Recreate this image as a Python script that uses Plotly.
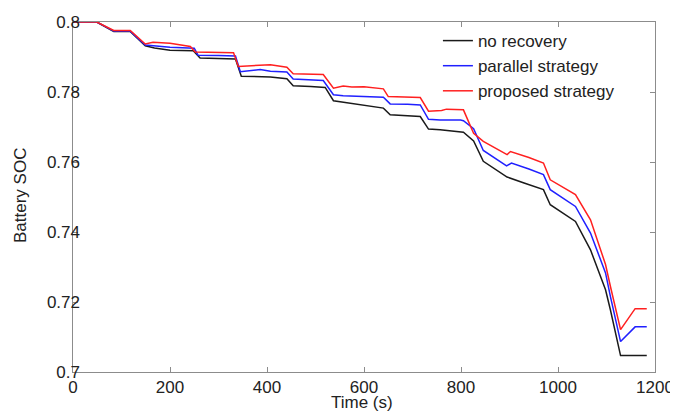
import plotly.graph_objects as go

# Time (s) and battery SOC
t_none = [0, 49, 84, 118, 149, 168, 200, 248, 262, 300, 335, 347, 386, 407, 441, 454,
          490, 520, 537, 592, 640, 654, 690, 716, 733, 757, 805, 826, 846, 895, 930,
          963, 970, 984, 1010, 1036, 1067, 1098, 1108, 1129, 1183]
soc_none = [0.8, 0.8, 0.7973, 0.7973, 0.7932, 0.7926, 0.7919, 0.7918, 0.7897, 0.7896,
            0.7894, 0.7845, 0.7845, 0.7843, 0.7838, 0.7818, 0.7816, 0.7813, 0.7775,
            0.7764, 0.7754, 0.7735, 0.7732, 0.7730, 0.7694, 0.7692, 0.7685, 0.7660,
            0.7602, 0.7557, 0.7540, 0.7526, 0.7521, 0.7478, 0.7455, 0.7430, 0.7349,
            0.7235, 0.7178, 0.7047, 0.7047]

t_par = [0, 49, 84, 118, 149, 168, 200, 250, 258, 300, 335, 345, 386, 407, 441, 454,
         490, 516, 537, 557, 640, 654, 690, 716, 733, 757, 799, 805, 826, 846, 894,
         904, 940, 970, 984, 1010, 1036, 1067, 1098, 1108, 1129, 1159, 1183]
soc_par = [0.8, 0.8, 0.7974, 0.7974, 0.7934, 0.7932, 0.7928, 0.7925, 0.7905, 0.7904,
           0.7903, 0.7858, 0.7864, 0.7859, 0.7857, 0.7837, 0.7835, 0.7833, 0.7792,
           0.7789, 0.7785, 0.7766, 0.7765, 0.7763, 0.7722, 0.7720, 0.7720, 0.7718,
           0.7695, 0.7633, 0.7589, 0.7597, 0.7580, 0.7564, 0.7521, 0.7497, 0.7473,
           0.7397, 0.7283, 0.7216, 0.7087, 0.7129, 0.7129]

t_prop = [0, 49, 84, 118, 149, 165, 200, 242, 252, 331, 341, 370, 407, 441, 454, 516,
          537, 557, 575, 600, 640, 650, 716, 733, 760, 770, 799, 805, 826, 846, 895,
          902, 940, 970, 984, 1010, 1036, 1067, 1098, 1108, 1129, 1159, 1183]
soc_prop = [0.8, 0.8, 0.7976, 0.7976, 0.7937, 0.7942, 0.7939, 0.7930, 0.7914, 0.7912,
            0.7873, 0.7876, 0.7878, 0.7871, 0.7852, 0.7850, 0.7811, 0.7817, 0.7814,
            0.7815, 0.7809, 0.7787, 0.7784, 0.7745, 0.7747, 0.7751, 0.7749, 0.7749,
            0.7682, 0.7659, 0.7621, 0.7630, 0.7613, 0.7597, 0.7549, 0.7528, 0.7507,
            0.7435, 0.7307, 0.7245, 0.7121, 0.7181, 0.7181]

x_ticks = [0, 200, 400, 600, 800, 1000, 1200]
y_ticks = [0.7, 0.72, 0.74, 0.76, 0.78, 0.8]
y_tick_text = ["0.7", "0.72", "0.74", "0.76", "0.78", "0.8"]

FONT = "Liberation Sans, Arial, sans-serif"
FS = 17

fig = go.Figure()
fig.add_trace(go.Scatter(x=t_none, y=soc_none, mode="lines", name="no recovery",
                         line=dict(color="#1a1a1a", width=1.5)))
fig.add_trace(go.Scatter(x=t_par, y=soc_par, mode="lines", name="parallel strategy",
                         line=dict(color="#2020ff", width=1.5)))
fig.add_trace(go.Scatter(x=t_prop, y=soc_prop, mode="lines", name="proposed strategy",
                         line=dict(color="#ff2020", width=1.5)))
# empty trace that only activates the label axis
fig.add_trace(go.Scatter(x=[], y=[], yaxis="y2", mode="lines", showlegend=False,
                         hoverinfo="skip"))

axis_common = dict(showgrid=False, zeroline=False, showline=True, linecolor="#8c8c8c",
                   linewidth=1, mirror="ticks", ticks="inside", ticklen=5,
                   tickcolor="#8c8c8c", automargin=False,
                   tickfont=dict(family=FONT, size=FS, color="#222"))

fig.update_layout(
    width=678, height=412,
    margin=dict(l=65, r=31, t=14, b=48),
    paper_bgcolor="white", plot_bgcolor="white",
    font=dict(family=FONT, size=FS, color="#222"),
    xaxis=dict(range=[0, 1200], tickvals=x_ticks, **axis_common),
    yaxis=dict(range=[0.7, 0.8], tickvals=y_ticks, showticklabels=False, **axis_common),
    # label-only companion axis so the tick labels sit as close to the frame as in the reference
    yaxis2=dict(range=[0.7, 0.8], tickvals=y_ticks, ticktext=y_tick_text, overlaying="y",
                anchor="free", position=0.012, side="left", showline=False, ticks="",
                showgrid=False, zeroline=False, automargin=False,
                tickfont=dict(family=FONT, size=FS, color="#222")),
    legend=dict(x=0.627, y=0.997, xanchor="left", yanchor="top", bgcolor="rgba(0,0,0,0)",
                font=dict(family=FONT, size=FS, color="#222"), tracegroupgap=0),
    showlegend=True,
    annotations=[
        dict(text="Time (s)", xref="paper", yref="paper", x=0.4968, y=-0.0867,
             xanchor="center", yanchor="middle", showarrow=False,
             font=dict(family=FONT, size=FS, color="#222")),
        dict(text="Battery SOC", xref="paper", yref="paper", x=-0.0911, y=0.5057,
             xanchor="center", yanchor="middle", textangle=-90, showarrow=False,
             font=dict(family=FONT, size=FS, color="#222")),
    ],
)

fig.write_html("out.html")
